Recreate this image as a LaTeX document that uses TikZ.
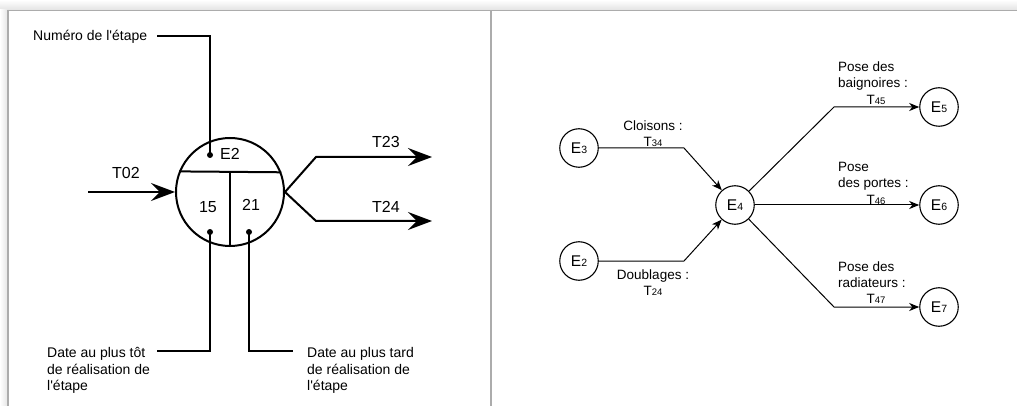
\documentclass[tikz,border=0pt]{standalone}
\usepackage{fontspec}
\setmainfont{Liberation Sans}[Ligatures=TeXOff]
\usetikzlibrary{arrows.meta}
\newcommand\mysub[1]{{\fontsize{9.5}{10}\selectfont #1}}
\newcommand\mycsub[1]{{\fontsize{10.5}{11}\selectfont #1}}
\begin{document}
\begin{tikzpicture}[x=1pt,y=-1pt,
  lab/.style={font=\fontsize{14}{16.5}\selectfont, inner sep=0pt},
  big/.style={font=\fontsize{16}{18}\selectfont, inner sep=0pt},
  rlab/.style={font=\fontsize{13.5}{16}\selectfont, inner sep=0pt},
  heavy/.style={line width=2pt},
  bigarrow/.style={line width=2pt, -{Stealth[length=24pt,width=18pt,inset=9pt]}},
  leader/.style={line width=1.2pt},
  dotmark/.style={circle, fill=black, inner sep=0pt, minimum size=6pt},
  etape/.style={circle, draw, line width=1.1pt, minimum size=38.5pt, inner sep=0pt, font=\fontsize{15.5}{17}\selectfont},
  tache/.style={line width=1pt, -{Stealth[length=10pt,width=8pt,inset=3pt]}},
  framecol/.style={draw=gray!65}
]
\useasboundingbox (0,0) rectangle (1017,406);
% frame and shadow
\shade[top color=white, bottom color=gray!22] (0,0) rectangle (1017,10);
\shade[left color=white, right color=gray!22] (0,10) rectangle (8,406);
\draw[framecol, line width=1.6pt] (8,406) -- (8,10.5) -- (1017,10.5);
\draw[framecol, line width=1.3pt] (491,11) -- (491,406);

% ---------- left panel ----------
\node[circle, draw, line width=2pt, minimum size=108pt, inner sep=0pt] (ev) at (230,192) {};
\draw[heavy] (ev.158.3) -- (ev.21.7);
\draw[heavy] (ev.south) -- (ev.south |- ev.21.7);
\node[big, anchor=base] (num) at (230,160) {E2};
\node[big, anchor=base] (early) at (208,212) {15};
\node[big, anchor=base] (late) at (251,211) {21};
\node[dotmark] (d1) at (210,155) {};
\node[dotmark] (d2) at (210,232) {};
\node[dotmark] (d3) at (249,232) {};

\node[lab, anchor=base west] (tnum) at (33,41) {Numéro de l'étape};
\coordinate (n1) at (157,36);
\coordinate (n2) at (210,36);
\draw[leader] (n1) -- (n2) -- (d1.center);

\node[lab, anchor=north west, align=left] (tearly) at (47,347.5) {Date au plus tôt\\de réalisation de\\l'étape};
\coordinate (a1) at (210,351);
\coordinate (a2) at (157,351);
\draw[leader] (d2.center) -- (a1) -- (a2);

\node[lab, anchor=north west, align=left] (tlate) at (307,347.5) {Date au plus tard\\de réalisation de\\l'étape};
\coordinate (b1) at (249,351);
\coordinate (b2) at (293,351);
\draw[leader] (d3.center) -- (b1) -- (b2);

\coordinate (in) at (88,192);
\draw[bigarrow] (in) -- (ev.west);
\node[big, anchor=base] (t02) at (126,179) {T02};

\coordinate (c1) at (316,157);
\coordinate (o1) at (432,157);
\coordinate (c2) at (316,221);
\coordinate (o2) at (432,221);
\draw[bigarrow] (ev.east) -- (c1) -- (o1);
\draw[bigarrow] (ev.east) -- (c2) -- (o2);
\node[big, anchor=base] (t23) at (386,148) {T23};
\node[big, anchor=base] (t24) at (386,213) {T24};

% ---------- right panel ----------
\node[etape] (e3) at (579,148) {E\mycsub{3}};
\node[etape] (e2) at (579,261) {E\mycsub{2}};
\node[etape] (e4) at (735,205) {E\mycsub{4}};
\node[etape] (e5) at (939,107) {E\mycsub{5}};
\node[etape] (e6) at (939,205) {E\mycsub{6}};
\node[etape] (e7) at (939,307) {E\mycsub{7}};

\coordinate (k34) at (684,148);
\coordinate (k24) at (684,261);
\coordinate (k45) at (834,107);
\coordinate (k47) at (834,307);
\draw[tache] (e3) -- (k34) -- (e4);
\draw[tache] (e2) -- (k24) -- (e4);
\draw[tache] (e4) -- (k45) -- (e5);
\draw[tache] (e4) -- (e6);
\draw[tache] (e4) -- (k47) -- (e7);

\node[rlab, anchor=base] (l34a) at (653,131) {Cloisons :};
\node[rlab, anchor=base] (l34b) at (653,147) {T\mysub{34}};
\node[rlab, anchor=base] (l24a) at (653,279) {Doublages :};
\node[rlab, anchor=base] (l24b) at (653,295) {T\mysub{24}};

\node[rlab, anchor=base west] (l45a) at (838,72) {Pose des};
\node[rlab, anchor=base west] (l45b) at (838,88) {baignoires :};
\node[rlab, anchor=base] (l45c) at (876,105) {T\mysub{45}};

\node[rlab, anchor=base west] (l46a) at (838,172) {Pose};
\node[rlab, anchor=base west] (l46b) at (838,188) {des portes :};
\node[rlab, anchor=base] (l46c) at (876,205) {T\mysub{46}};

\node[rlab, anchor=base west] (l47a) at (838,271) {Pose des};
\node[rlab, anchor=base west] (l47b) at (838,287) {radiateurs :};
\node[rlab, anchor=base] (l47c) at (876,303) {T\mysub{47}};
\end{tikzpicture}
\end{document}
